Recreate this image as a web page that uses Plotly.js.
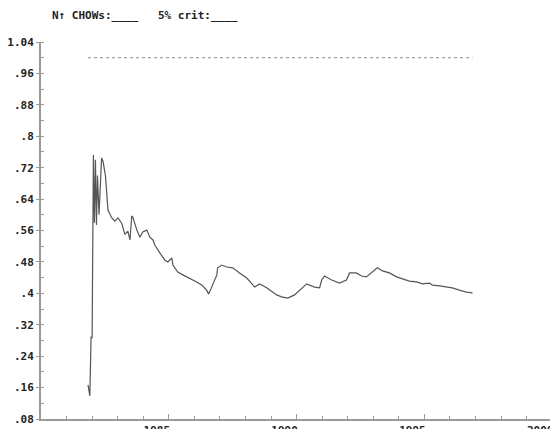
<!DOCTYPE html>
<html>
<head>
<meta charset="utf-8">
<script src="https://cdn.plot.ly/plotly-3.0.1.min.js"></script>
<style>
html,body{margin:0;padding:0;overflow:hidden;background:#fff;width:550px;height:429px;}
#chart{width:553px;height:429px;}
</style>
</head>
<body>
<div id="chart"></div>
<script>
// N-up Chow test statistics (scaled by 5% critical value)
const years = [1981.84,1981.91,1981.96,1982.00,1982.05,1982.09,1982.13,1982.17,1982.21,1982.27,1982.37,1982.43,1982.52,1982.62,1982.77,1982.89,1983.01,1983.16,1983.28,1983.40,1983.48,1983.55,1983.59,1983.75,1983.87,1983.98,1984.14,1984.26,1984.38,1984.45,1984.65,1984.84,1984.96,1985.12,1985.16,1985.35,1985.55,1985.82,1986.09,1986.29,1986.48,1986.56,1986.72,1986.88,1986.91,1987.07,1987.27,1987.50,1987.77,1988.05,1988.36,1988.55,1988.83,1989.22,1989.41,1989.65,1989.92,1990.12,1990.39,1990.70,1990.90,1990.98,1991.09,1991.37,1991.68,1991.95,1992.07,1992.34,1992.54,1992.73,1992.93,1993.16,1993.36,1993.63,1993.91,1994.14,1994.41,1994.69,1994.92,1995.20,1995.31,1995.59,1995.86,1996.09,1996.37,1996.64,1996.88];
const chows = [0.167,0.139,0.290,0.286,0.752,0.580,0.740,0.574,0.700,0.600,0.745,0.735,0.700,0.612,0.592,0.584,0.592,0.578,0.550,0.558,0.536,0.597,0.594,0.561,0.543,0.556,0.561,0.543,0.536,0.523,0.503,0.485,0.480,0.490,0.472,0.454,0.447,0.439,0.429,0.421,0.408,0.398,0.421,0.447,0.465,0.472,0.467,0.465,0.452,0.439,0.416,0.424,0.414,0.396,0.391,0.388,0.396,0.408,0.424,0.416,0.414,0.434,0.444,0.434,0.426,0.434,0.452,0.452,0.444,0.442,0.452,0.465,0.457,0.452,0.442,0.437,0.431,0.429,0.424,0.426,0.421,0.419,0.416,0.414,0.408,0.403,0.401];
const critValue = 1.0;
const crit = years.map(() => critValue);

const yTickVals = [0.08,0.16,0.24,0.32,0.40,0.48,0.56,0.64,0.72,0.80,0.88,0.96,1.04];
const yTickText = [".08",".16",".24",".32",".4",".48",".56",".64",".72",".8",".88",".96","1.04"];
const xTickVals = [1985,1990,1995,2000];
const xTickText = ["1985","1990","1995","2000"];
const legendText = "N\u2191 CHOWs:____   5% crit:____";

const font = {family: "DejaVu Sans Mono, monospace", size: 11, color: "#222"};

const traces = [
  {x: years, y: crit, type: "scatter", mode: "lines", line: {color: "#888", width: 1, dash: "dot"}, hoverinfo: "skip"},
  {x: years, y: chows, type: "scatter", mode: "lines", line: {color: "#555", width: 1.2}, hoverinfo: "skip"}
];

const layout = {
  width: 553, height: 429,
  margin: {l: 41, r: 0, t: 42, b: 10, pad: 0},
  paper_bgcolor: "#fff", plot_bgcolor: "#fff",
  showlegend: false,
  font: font,
  xaxis: {
    range: [1980, 2000.03], autorange: false, automargin: false,
    showgrid: false, zeroline: false,
    showline: true, linecolor: "#999", linewidth: 2,
    tickmode: "array", tickvals: xTickVals, ticktext: xTickText,
    ticks: "inside", ticklen: 5, tickcolor: "#999", tickwidth: 1,
    ticklabelshift: -12, ticklabeloverflow: "allow",
    tickfont: {family: "DejaVu Sans Mono, monospace", size: 11, color: "#222", weight: "bold"},
    minor: {tick0: 1980, dtick: 1, ticks: "inside", ticklen: 3, tickcolor: "#999", showgrid: false}
  },
  yaxis: {
    range: [0.08, 1.04], autorange: false, automargin: false,
    showgrid: false, zeroline: false,
    showline: true, linecolor: "#999", linewidth: 2,
    tickmode: "array", tickvals: yTickVals, ticktext: yTickText,
    ticks: "outside", ticklen: 3, tickcolor: "#999", tickwidth: 1,
    ticklabeloverflow: "allow",
    tickfont: {family: "DejaVu Sans Mono, monospace", size: 11, color: "#222", weight: "bold"},
    minor: {tick0: 0.08, dtick: 0.04, ticks: "inside", ticklen: 3, tickcolor: "#999", showgrid: false}
  },
  annotations: [{
    text: legendText, xref: "paper", yref: "paper",
    x: 0.0176, y: 1.069, xanchor: "left", yanchor: "middle", showarrow: false,
    font: {family: "DejaVu Sans Mono, monospace", size: 11, color: "#222", weight: "bold"}
  }]
};

Plotly.newPlot("chart", traces, layout, {staticPlot: true, displayModeBar: false});
</script>
</body>
</html>
